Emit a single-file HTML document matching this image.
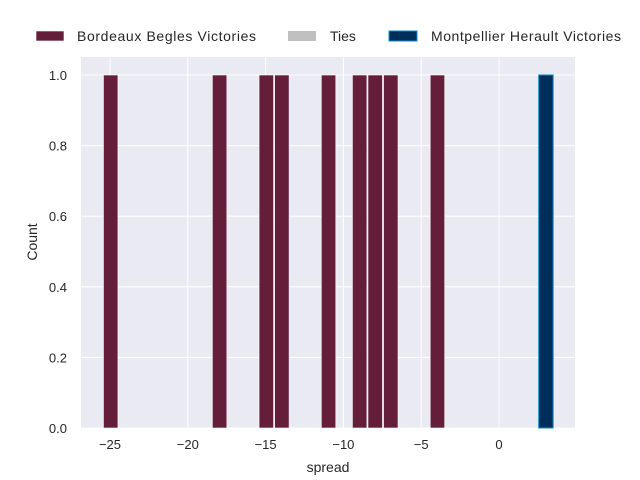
<!DOCTYPE html>
<html><head><meta charset="utf-8"><style>
body{margin:0;background:#fff;}
svg{display:block;font-family:"Liberation Sans",sans-serif;}
</style></head><body>
<svg id="chart" width="640" height="480">
<rect x="81" y="57" width="494" height="371" fill="#eaeaf2"/>
<g id="grid"></g><g id="bars"></g><g id="ticks"></g>
<text x="328" y="472" font-size="14" text-anchor="middle" fill="#262626">spread</text>
<text transform="translate(37,242) rotate(-90)" font-size="14" text-anchor="middle" fill="#262626">Count</text>
<g>
<rect x="36" y="31" width="28" height="10" fill="#641e3a" stroke="#fff" stroke-width="0.6"/>
<text x="77" y="41" font-size="14" textLength="179" fill="#262626">Bordeaux Begles Victories</text>
<rect x="288" y="31" width="28" height="10" fill="#c0c0c0"/>
<text x="330" y="41" font-size="14" fill="#262626">Ties</text>
<rect x="389" y="31" width="28" height="10" fill="#002e5a" stroke="#0a8fd0" stroke-width="1"/>
<text x="431" y="41" font-size="14" textLength="190" fill="#262626">Montpellier Herault Victories</text>
</g>
</svg>
<script>
const bordeauxSpreads=[-25,-18,-15,-14,-11,-9,-8,-7,-4];
const bordeauxCounts=[1,1,1,1,1,1,1,1,1];
const montpellierSpreads=[3];
const montpellierCounts=[1];
const xTicks=[-25,-20,-15,-10,-5,0];
const yTicks=[0,0.2,0.4,0.6,0.8,1.0];
const NS="http://www.w3.org/2000/svg";
const xs=v=>110+(v+25)*15.56;
const ys=v=>428-v*353;
function mk(tag,attrs,parent){const e=document.createElementNS(NS,tag);for(const k in attrs)e.setAttribute(k,attrs[k]);document.getElementById(parent).appendChild(e);return e;}
xTicks.forEach(t=>{
 const g=mk('line',{x1:xs(t),x2:xs(t),y1:57,y2:428,stroke:'#fff','stroke-width':1},'grid');
 
 
 const l=mk('text',{x:xs(t),y:449,'font-size':13,'text-anchor':'middle',fill:'#262626'},'ticks');
 l.textContent=(t<0?'\u2212'+(-t):String(t));
 
 
});
yTicks.forEach(t=>{
 const g=mk('line',{x1:81,x2:575,y1:ys(t),y2:ys(t),stroke:'#fff','stroke-width':1},'grid');
 
 
 const l=mk('text',{x:67,y:ys(t)+5,'font-size':13,'text-anchor':'end',fill:'#262626'},'ticks');
 l.textContent=t.toFixed(1);
 
 
});
bordeauxSpreads.forEach((v,i)=>{
 const r=mk('rect',{x:xs(v-0.42),y:ys(bordeauxCounts[i]),width:15.56*0.93,height:ys(0)-ys(bordeauxCounts[i]),fill:'#641e3a',stroke:'#fff','stroke-width':0.6},'bars');
 
 
});
montpellierSpreads.forEach((v,i)=>{
 const r=mk('rect',{x:xs(v-0.45),y:ys(montpellierCounts[i]),width:15.56*0.93,height:ys(0)-ys(montpellierCounts[i]),fill:'#002e5a',stroke:'#0a8fd0','stroke-width':1},'bars');
 
 
});
</script>
</body></html>
